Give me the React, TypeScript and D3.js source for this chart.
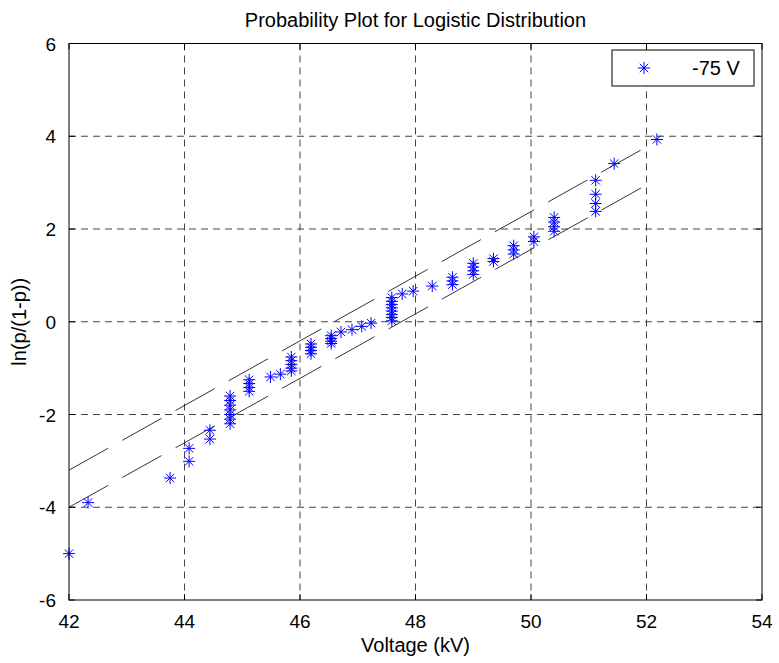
import React from "react";
import * as d3 from "d3";

// voltage (kV) and logit of plotting position
const voltages = [
  42.0, 42.33, 43.75,
  44.08, 44.08, 44.44, 44.44,
  44.79, 44.79, 44.79, 44.79, 44.79, 44.79, 44.79,
  45.12, 45.12, 45.12, 45.12,
  45.49, 45.66,
  45.85, 45.85, 45.85, 45.85, 45.85,
  46.19, 46.19, 46.19, 46.19,
  46.54, 46.54, 46.54, 46.54,
  46.71, 46.9, 47.07, 47.23,
  47.59, 47.59, 47.59, 47.59, 47.59, 47.59, 47.59, 47.59,
  47.77, 47.96, 48.29,
  48.64, 48.64, 48.64,
  49.0, 49.0, 49.0, 49.0,
  49.35, 49.35,
  49.7, 49.7, 49.7,
  50.05, 50.05,
  50.4, 50.4, 50.4, 50.4,
  51.12, 51.12, 51.12, 51.12,
  51.44, 52.18,
];
const logits = [
  -5.0, -3.9, -3.37,
  -2.73, -3.01, -2.34, -2.53,
  -1.6, -1.7, -1.8, -1.9, -2.0, -2.1, -2.2,
  -1.25, -1.33, -1.42, -1.5,
  -1.19, -1.13,
  -0.76, -0.84, -0.92, -1.0, -1.06,
  -0.48, -0.55, -0.62, -0.69,
  -0.3, -0.36, -0.42, -0.47,
  -0.22, -0.17, -0.1, -0.03,
  0.02, 0.09, 0.16, 0.23, 0.3, 0.37, 0.44, 0.52,
  0.6, 0.66, 0.77,
  0.8, 0.88, 0.96,
  1.02, 1.1, 1.18, 1.26,
  1.3, 1.36,
  1.46, 1.55, 1.64,
  1.73, 1.83,
  1.95, 2.05, 2.15, 2.25,
  2.38, 2.55, 2.75, 3.05,
  3.41, 3.93,
];

// dashed confidence bounds (end points)
const boundX = [42, 52];
const upperBound = [-3.2, 3.77];
const lowerBound = [-4.0, 2.95];

const xTicks = [42, 44, 46, 48, 50, 52, 54];
const yTicks = [-6, -4, -2, 0, 2, 4, 6];

const W = 779;
const H = 663;
const plot = { left: 69, right: 762, top: 43.5, bottom: 600 };
const font = "'Liberation Sans', Arial, sans-serif";

const Star = ({ x, y, r = 6 }: { x: number; y: number; r?: number }) => {
  const d = r * 0.7;
  return (
    <path
      d={`M${x - r},${y}H${x + r}M${x},${y - r}V${y + r}M${x - d},${y - d}L${x + d},${y + d}M${x - d},${y + d}L${x + d},${y - d}`}
      stroke="#0000ff"
      strokeWidth={1}
      fill="none"
    />
  );
};

export default function App() {
  const x = d3.scaleLinear().domain([42, 54]).range([plot.left, plot.right]);
  const y = d3.scaleLinear().domain([-6, 6]).range([plot.bottom, plot.top]);
  const line = d3
    .line<number>()
    .x((_, i) => x(boundX[i]))
    .y((d) => y(d));
  const tick = 6;

  return (
    <svg width={W} height={H} style={{ position: "absolute", left: 0, top: 0 }} fontFamily={font}>
      <rect width={W} height={H} fill="#fff" />

      {/* grid */}
      {xTicks.slice(1, -1).map((t) => (
        <line key={"gx" + t} x1={x(t)} x2={x(t)} y1={plot.top} y2={plot.bottom}
          stroke="#444" strokeWidth={1} strokeDasharray="7 5" />
      ))}
      {yTicks.slice(1, -1).map((t) => (
        <line key={"gy" + t} x1={plot.left} x2={plot.right} y1={y(t)} y2={y(t)}
          stroke="#444" strokeWidth={1} strokeDasharray="7 5" />
      ))}

      {/* bounds */}
      <path d={line(upperBound) ?? ""} stroke="#000" strokeWidth={0.8} fill="none" strokeDasharray="45 16" />
      <path d={line(lowerBound) ?? ""} stroke="#000" strokeWidth={0.8} fill="none" strokeDasharray="45 16" />

      {/* points */}
      {voltages.map((v, i) => (
        <Star key={i} x={x(v)} y={y(logits[i])} />
      ))}

      {/* axes box and ticks */}
      <rect x={plot.left} y={plot.top} width={plot.right - plot.left} height={plot.bottom - plot.top}
        fill="none" stroke="#000" strokeWidth={1} />
      {xTicks.map((t) => (
        <g key={"tx" + t}>
          <line x1={x(t)} x2={x(t)} y1={plot.bottom} y2={plot.bottom - tick} stroke="#000" />
          <line x1={x(t)} x2={x(t)} y1={plot.top} y2={plot.top + tick} stroke="#000" />
          <text x={x(t)} y={plot.bottom + 28} textAnchor="middle" fontSize={19}>{t}</text>
        </g>
      ))}
      {yTicks.map((t) => (
        <g key={"ty" + t}>
          <line x1={plot.left} x2={plot.left + tick} y1={y(t)} y2={y(t)} stroke="#000" />
          <line x1={plot.right} x2={plot.right - tick} y1={y(t)} y2={y(t)} stroke="#000" />
          <text x={plot.left - 13} y={y(t) + 7} textAnchor="end" fontSize={19}>{t}</text>
        </g>
      ))}

      {/* labels */}
      <text x={(plot.left + plot.right) / 2} y={27} textAnchor="middle" fontSize={20}>
        Probability Plot for Logistic Distribution
      </text>
      <text x={(plot.left + plot.right) / 2} y={652} textAnchor="middle" fontSize={20}>
        Voltage (kV)
      </text>
      <text transform={`translate(26,${(plot.top + plot.bottom) / 2}) rotate(-90)`} textAnchor="middle" fontSize={20}>
        ln(p/(1-p))
      </text>

      {/* legend */}
      <rect x={612} y={50} width={142} height={36} fill="#fff" stroke="#000" strokeWidth={1} />
      <Star x={644} y={68} />
      <text x={692} y={75} fontSize={20}>-75 V</text>
    </svg>
  );
}
